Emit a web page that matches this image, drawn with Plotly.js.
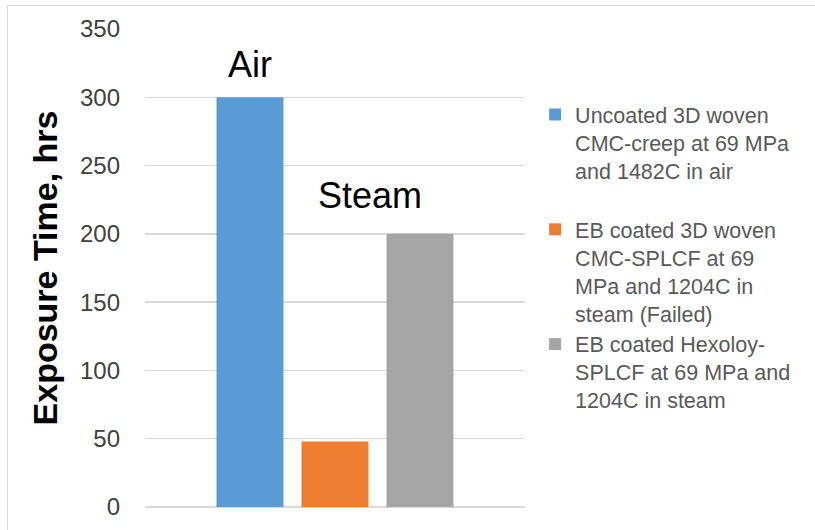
<!DOCTYPE html>
<html>
<head>
<meta charset="utf-8">
<script src="https://cdn.plot.ly/plotly-3.0.1.min.js"></script>
<style>
  html, body { margin: 0; padding: 0; background: #fff; }
  #wrap { position: relative; width: 815px; height: 530px; overflow: hidden; }
  #frame { position: absolute; left: 7px; top: 5px; width: 830px; height: 560px;
           border: 1.5px solid #d9d9d9; box-sizing: border-box; pointer-events: none; }
  #chart { position: absolute; left: 0; top: 0; width: 815px; height: 530px; }
</style>
</head>
<body>
<div id="wrap">
  <div id="chart"></div>
  <div id="frame"></div>
</div>
<script>
const category = [''];
const seriesNames = [
  'Uncoated 3D woven<br>CMC-creep at 69 MPa<br>and 1482C in air<br> ',
  'EB coated 3D woven<br>CMC-SPLCF at 69<br>MPa and 1204C in<br>steam (Failed)',
  'EB coated Hexoloy-<br>SPLCF at 69 MPa and<br>1204C in steam'
];
const seriesValues = [[300], [48], [200]];
const seriesColors = ['#5B9BD5', '#ED7D31', '#A5A5A5'];
const yTickVals = [0, 50, 100, 150, 200, 250, 300, 350];
const labels = ['Air', 'Steam'];
const labelPos = [{x: 0.277, y: 324}, {x: 0.593, y: 228}];

const traces = seriesNames.map((n, i) => ({
  type: 'bar',
  x: category,
  y: seriesValues[i],
  name: n,
  legendgroup: 'g' + i,
  marker: {color: seriesColors[i]},
  hoverinfo: 'skip'
}));

const layout = {
  width: 815, height: 530,
  margin: {l: 145, r: 290, t: 29, b: 23},
  paper_bgcolor: '#ffffff',
  plot_bgcolor: '#ffffff',
  barmode: 'group',
  bargap: 0.329,
  bargroupgap: 0.212,
  font: {family: 'Liberation Sans, Arial, sans-serif', color: '#404040'},
  xaxis: {showticklabels: false, showgrid: false, zeroline: false, ticks: '', showline: false, fixedrange: true},
  yaxis: {
    range: [0, 350],
    tickvals: yTickVals,
    ticktext: yTickVals.map(String),
    tickfont: {size: 24, color: '#404040'},
    showgrid: true, gridcolor: '#d9d9d9', gridwidth: 1.5,
    zeroline: true, zerolinecolor: '#d9d9d9', zerolinewidth: 1.5,
    showline: false, ticks: '',
    ticklabelstandoff: 24,
    title: {text: '<b>Exposure Time, hrs</b>', font: {size: 34, color: '#000000'}, standoff: 12}
  },
  showlegend: true,
  legend: {
    x: 1.0266, xanchor: 'left',
    y: 0.864, yanchor: 'top',
    valign: 'top',
    tracegroupgap: 0,
    font: {size: 21.5, color: '#595959'},
    bgcolor: 'rgba(0,0,0,0)'
  },
  annotations: labels.map((t, i) => ({
    text: t, xref: 'paper', yref: 'y', x: labelPos[i].x, y: labelPos[i].y,
    xanchor: 'center', yanchor: 'middle', showarrow: false,
    font: {size: 36, color: '#000000'}
  }))
};

Plotly.newPlot('chart', traces, layout, {displayModeBar: false, staticPlot: true});
</script>
</body>
</html>
